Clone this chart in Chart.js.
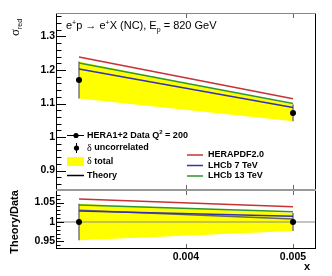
<!DOCTYPE html>
<html>
<head>
<meta charset="utf-8">
<script src="https://cdn.jsdelivr.net/npm/chart.js@4.4.1/dist/chart.umd.min.js"></script>
<style>
  html, body { margin: 0; padding: 0; background: #fff; }
  #wrap { position: relative; width: 332px; height: 276px; overflow: hidden; }
  canvas { position: absolute; left: 0; }
  #topo { top: 0; }
  #razao { top: 180px; }
</style>
</head>
<body>
<div id="wrap">
  <canvas id="topo" width="332" height="200"></canvas>
  <canvas id="razao" width="332" height="96"></canvas>
</div>
<script>
// Valores
const xVals = [0.003, 0.005];
const dataVals = [1.170, 1.072];
const errTotal = [0.055, 0.025];
const errUncor = [0.055, 0.025];
const heraPdf = [1.239, 1.114];
const lhcb7 = [1.203, 1.088];
const lhcb13 = [1.221, 1.100];
const theoryRatio = [1.030, 1.008];

// Ticks dos eixos
const yTopTicks = [0.9, 1, 1.1, 1.2, 1.3];
const yTopLabels = ["0.9", "1", "1.1", "1.2", "1.3"];
const yBotTicks = [0.95, 1, 1.05];
const yBotLabels = ["0.95", "1", "1.05"];
const xTicks = [0.004, 0.005];
const xLabels = ["0.004", "0.005"];

const xMin = 0.0027944, xMax = 0.0052056;
const SANS = "'Liberation Sans', Arial, sans-serif";
const tickFont = { family: SANS, size: 10.5, weight: "bold" };

const RED = "#c83232", BLUE = "#3232b4", GREEN = "#2f962f", YEL = "#ffff00";

// Helpers
function pts(arr) {
  return xVals.map((x, i) => ({ x: x, y: arr[i] }));
}
function ratio(arr) {
  return arr.map((v, i) => v / dataVals[i]);
}
function lineSet(data, color, width, order) {
  return { data: data, borderColor: color, borderWidth: width, pointRadius: 0, fill: false, order: order };
}
function errorBars(centers, errs) {
  return xVals.map((x, i) => lineSet([{ x: x, y: centers[i] - errs[i] }, { x: x, y: centers[i] + errs[i] }], "#777", 1.5, 4));
}

function yScale(min, max, ticks, labels) {
  return {
    type: "linear", min: min, max: max, position: "left",
    grid: { display: false, drawTicks: false }, border: { display: false },
    ticks: { font: tickFont, color: "#000", padding: 2, autoSkip: false, callback: (v, i) => labels[i] },
    afterBuildTicks: s => { s.ticks = ticks.map(v => ({ value: v })); },
    afterFit: s => { s.width = 57; }
  };
}

// Texto com sub/sobrescritos
function drawRich(ctx, parts, x, y) {
  for (const p of parts) {
    ctx.font = p.f;
    ctx.fillText(p.t, x, y + (p.dy || 0));
    x += ctx.measureText(p.t).width;
  }
}

// Moldura e ticks para dentro (estilo ROOT)
const molduraPlugin = {
  id: "moldura",
  afterDraw(chart, args, o) {
    const ctx = chart.ctx, a = chart.chartArea;
    const x = chart.scales.x, y = chart.scales.y;
    ctx.save();
    ctx.lineWidth = 1;
    ctx.strokeStyle = "#000";
    // ticks do eixo y
    for (let v = o.minorStart; v <= y.max + 1e-9; v += o.minorStep) {
      const py = Math.round(y.getPixelForValue(v)) + 0.5;
      const major = o.yTicks.some(t => Math.abs(t - v) < 1e-6);
      const len = major ? o.majorLen : o.minorLen;
      ctx.beginPath();
      ctx.moveTo(a.left, py);
      ctx.lineTo(a.left + len, py);
      ctx.stroke();
    }
    // ticks do eixo x (em cima e em baixo)
    ctx.strokeStyle = "#666";
    for (const v of xTicks) {
      const px = Math.round(x.getPixelForValue(v)) + 0.5;
      ctx.beginPath();
      ctx.moveTo(px, a.bottom); ctx.lineTo(px, a.bottom - 4);
      ctx.moveTo(px, a.top); ctx.lineTo(px, a.top + 4);
      ctx.stroke();
    }
    // bordas
    ctx.strokeStyle = "#000";
    ctx.beginPath();
    ctx.moveTo(a.left - 0.5, a.top); ctx.lineTo(a.left - 0.5, a.bottom);
    ctx.moveTo(a.right + 0.5, a.top); ctx.lineTo(a.right + 0.5, a.bottom);
    ctx.stroke();
    ctx.strokeStyle = o.topColor;
    ctx.beginPath();
    ctx.moveTo(a.left - 1, a.top - 0.5); ctx.lineTo(a.right + 1, a.top - 0.5);
    ctx.stroke();
    ctx.strokeStyle = o.bottomColor;
    ctx.beginPath();
    ctx.moveTo(a.left - 1, a.bottom + 0.5); ctx.lineTo(a.right + 1, a.bottom + 0.5);
    ctx.stroke();
    ctx.restore();
  }
};

// Textos do painel de cima: título, legendas, eixo y
const textosTopo = {
  id: "textosTopo",
  afterDraw(chart) {
    const ctx = chart.ctx;
    ctx.save();
    ctx.fillStyle = "#000";
    ctx.textBaseline = "alphabetic";
    ctx.textAlign = "left";
    const n = "11px " + SANS, s = "7px " + SANS;
    drawRich(ctx, [
      { t: "e", f: n }, { t: "+", f: s, dy: -4 }, { t: "p \u2192 e", f: n }, { t: "+", f: s, dy: -4 },
      { t: "X (NC), E", f: n }, { t: "p", f: s, dy: 3 }, { t: " = 820 GeV", f: n }
    ], 66, 29);

    // eixo y
    ctx.save();
    ctx.translate(19, 36);
    ctx.rotate(-Math.PI / 2);
    drawRich(ctx, [{ t: "\u03c3", f: "13px 'Liberation Serif', serif" }, { t: "red", f: "7px " + SANS, dy: 3 }], 0, 0);
    ctx.restore();

    // legenda da esquerda
    const b = "bold 9px " + SANS;
    ctx.textBaseline = "middle";
    ctx.strokeStyle = "#000";
    ctx.lineWidth = 1;
    ctx.beginPath(); ctx.moveTo(67, 135.5); ctx.lineTo(84, 135.5); ctx.stroke();
    ctx.beginPath(); ctx.arc(76, 135.5, 2.6, 0, 2 * Math.PI); ctx.fill();
    drawRich(ctx, [{ t: "HERA1+2 Data Q", f: b }, { t: "2", f: "bold 6px " + SANS, dy: -3 }, { t: " = 200", f: b }], 87, 135.5);

    ctx.beginPath(); ctx.moveTo(76.5, 143); ctx.lineTo(76.5, 153); ctx.stroke();
    ctx.beginPath(); ctx.arc(76.5, 148, 2.6, 0, 2 * Math.PI); ctx.fill();
    drawRich(ctx, [{ t: "\u03b4", f: "10px 'Liberation Serif', serif" }, { t: " uncorrelated", f: b }], 87, 148);

    ctx.fillStyle = YEL;
    ctx.fillRect(67, 157, 17, 9);
    ctx.fillStyle = "#000";
    drawRich(ctx, [{ t: "\u03b4", f: "10px 'Liberation Serif', serif" }, { t: " total", f: b }], 87, 161.5);

    ctx.lineWidth = 1.5;
    ctx.beginPath(); ctx.moveTo(67, 175.5); ctx.lineTo(84, 175.5); ctx.stroke();
    drawRich(ctx, [{ t: "Theory", f: b }], 87, 175.5);

    // legenda da direita
    const itens = [["HERAPDF2.0", RED, 155], ["LHCb 7 TeV", BLUE, 165.5], ["LHCb 13 TeV", GREEN, 176]];
    for (const [txt, cor, yy] of itens) {
      ctx.strokeStyle = cor;
      ctx.beginPath(); ctx.moveTo(187, yy); ctx.lineTo(203, yy); ctx.stroke();
      drawRich(ctx, [{ t: txt, f: b }], 208, yy);
    }
    ctx.restore();
  }
};

const textosRazao = {
  id: "textosRazao",
  afterDraw(chart) {
    const ctx = chart.ctx;
    ctx.save();
    ctx.fillStyle = "#000";
    ctx.font = "bold 11px " + SANS;
    ctx.textAlign = "center";
    ctx.textBaseline = "middle";
    ctx.save();
    ctx.translate(15, 42);
    ctx.rotate(-Math.PI / 2);
    ctx.fillText("Theory/Data", 0, 0);
    ctx.restore();
    ctx.fillText("x", 307, 87);
    ctx.restore();
  }
};

// Painel de cima
new Chart(document.getElementById("topo"), {
  type: "line",
  data: {
    datasets: [
      { data: pts(dataVals.map((v, i) => v - errTotal[i])), borderWidth: 0, pointRadius: 0, fill: false, order: 10 },
      { data: pts(dataVals.map((v, i) => v + errTotal[i])), borderWidth: 0, pointRadius: 0, fill: "-1", backgroundColor: YEL, order: 9 },
      ...errorBars(dataVals, errUncor),
      lineSet(pts(heraPdf), RED, 1.5, 3),
      lineSet(pts(lhcb13), GREEN, 1.5, 3),
      lineSet(pts(lhcb7), BLUE, 1.5, 3),
      { data: pts(dataVals), showLine: false, pointRadius: 3, pointBackgroundColor: "#000", pointBorderWidth: 0, order: 1 }
    ]
  },
  options: {
    responsive: false, animation: false, devicePixelRatio: 1,
    layout: { padding: { left: 0, right: 17, top: 14, bottom: 11 } },
    plugins: {
      legend: { display: false }, tooltip: { enabled: false },
      moldura: { yTicks: yTopTicks, minorStart: 0.86, minorStep: 0.02, majorLen: 9, minorLen: 4.5, topColor: "#888", bottomColor: "#999" }
    },
    scales: {
      x: { type: "linear", min: xMin, max: xMax, display: false },
      y: yScale(0.845, 1.367, yTopTicks, yTopLabels)
    }
  },
  plugins: [molduraPlugin, textosTopo]
});

// Painel da razão
new Chart(document.getElementById("razao"), {
  type: "line",
  data: {
    datasets: [
      { data: pts(ratio(dataVals.map((v, i) => v - errTotal[i]))), borderWidth: 0, pointRadius: 0, fill: false, order: 10 },
      { data: pts(ratio(dataVals.map((v, i) => v + errTotal[i]))), borderWidth: 0, pointRadius: 0, fill: "-1", backgroundColor: YEL, order: 9 },
      lineSet([{ x: xMin, y: 1 }, { x: xMax, y: 1 }], "#888", 1, 8),
      ...errorBars(ratio(dataVals), errUncor.map((e, i) => e / dataVals[i])),
      lineSet(pts(ratio(heraPdf)), RED, 1.5, 3),
      lineSet(pts(ratio(lhcb13)), GREEN, 1.5, 3),
      lineSet(pts(ratio(lhcb7)), BLUE, 1.5, 3),
      lineSet(pts(theoryRatio), "#666", 1.5, 3),
      { data: pts(ratio(dataVals)), showLine: false, pointRadius: 3, pointBackgroundColor: "#000", pointBorderWidth: 0, order: 1 }
    ]
  },
  options: {
    responsive: false, animation: false, devicePixelRatio: 1,
    layout: { padding: { left: 0, right: 17, top: 11, bottom: 0 } },
    plugins: {
      legend: { display: false }, tooltip: { enabled: false },
      moldura: { yTicks: yBotTicks, minorStart: 0.94, minorStep: 0.01, majorLen: 7, minorLen: 3.5, topColor: "#999", bottomColor: "#000" }
    },
    scales: {
      x: {
        type: "linear", min: xMin, max: xMax, position: "bottom",
        grid: { display: false, drawTicks: false }, border: { display: false },
        ticks: { font: tickFont, color: "#000", padding: 3, maxRotation: 0, autoSkip: false, callback: (v, i) => xLabels[i] },
        afterBuildTicks: s => { s.ticks = xTicks.map(v => ({ value: v })); },
        afterFit: s => { s.height = 28; }
      },
      y: yScale(0.9333, 1.0795, yBotTicks, yBotLabels)
    }
  },
  plugins: [molduraPlugin, textosRazao]
});
</script>
</body>
</html>
